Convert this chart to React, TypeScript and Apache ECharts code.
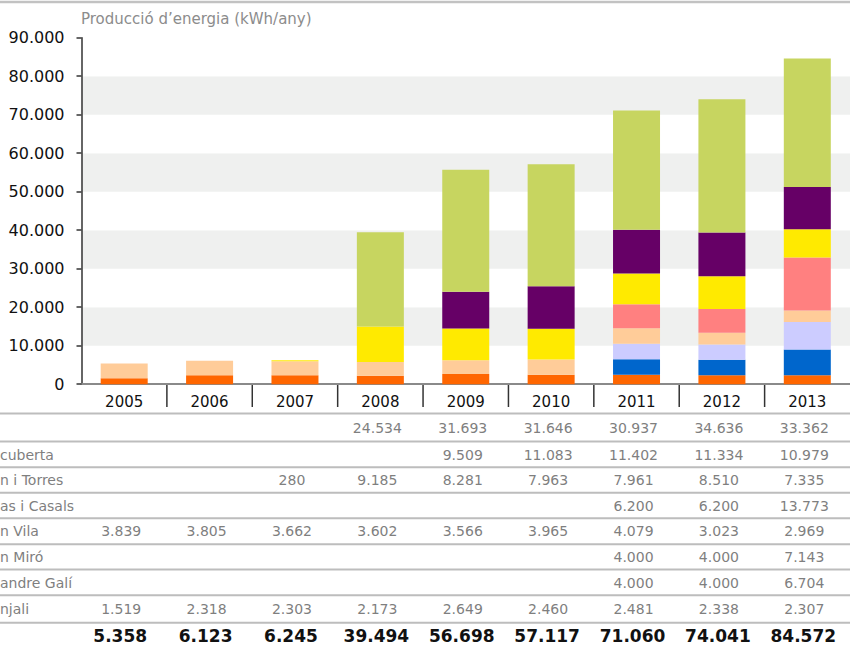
import React, { useEffect, useRef } from "react";
import * as echarts from "echarts";

const years = ["2005", "2006", "2007", "2008", "2009", "2010", "2011", "2012", "2013"];
const yTicks = [0, 10000, 20000, 30000, 40000, 50000, 60000, 70000, 80000, 90000];

// table rows, top to bottom (labels are cut by the left edge in the original)
const rowLabels = ["", "cuberta", "n i Torres", "as i Casals", "n Vila", "n Miró", "andre Galí", "njali"];
const rowGreen = [null, null, null, 24534, 31693, 31646, 30937, 34636, 33362];
const rowPurple = [null, null, null, null, 9509, 11083, 11402, 11334, 10979];
const rowYellow = [null, null, 280, 9185, 8281, 7963, 7961, 8510, 7335];
const rowPink = [null, null, null, null, null, null, 6200, 6200, 13773];
const rowPeach = [3839, 3805, 3662, 3602, 3566, 3965, 4079, 3023, 2969];
const rowLavender = [null, null, null, null, null, null, 4000, 4000, 7143];
const rowBlue = [null, null, null, null, null, null, 4000, 4000, 6704];
const rowOrange = [1519, 2318, 2303, 2173, 2649, 2460, 2481, 2338, 2307];
const totals = [5358, 6123, 6245, 39494, 56698, 57117, 71060, 74041, 84572];

const tableRows = [rowGreen, rowPurple, rowYellow, rowPink, rowPeach, rowLavender, rowBlue, rowOrange];
const rowColors = ["#c7d560", "#660066", "#ffea00", "#ff8080", "#ffcc99", "#ccccff", "#0066cc", "#ff6600"];

const FONT = "DejaVu Sans";

function fmt(n: number | null): string {
  if (n == null) return "";
  return String(n).replace(/\B(?=(\d{3})+(?!\d))/g, ".");
}

export default function App() {
  const ref = useRef<HTMLDivElement>(null);
  useEffect(() => {
    if (!ref.current) return;
    const chart = echarts.init(ref.current, undefined, { renderer: "svg" });
    // stack from bottom: orange, blue, lavender, peach, pink, yellow, purple, green
    const stackOrder = [7, 6, 5, 4, 3, 2, 1, 0];
    const series = stackOrder.map((ri) => ({
      type: "bar",
      name: rowLabels[ri] || "row" + ri,
      stack: "total",
      barWidth: 47,
      data: tableRows[ri].map((v) => (v == null ? "-" : v)),
      itemStyle: { color: rowColors[ri] },
      emphasis: { disabled: true },
    }));
    chart.setOption({
      animation: false,
      grid: { left: 81.5, top: 37.7, width: 773, bottom: 260.8, containLabel: false },
      xAxis: {
        type: "category",
        data: years,
        axisLine: { show: true, lineStyle: { color: "#8a8a8a", width: 2 } },
        axisTick: { show: false },
        axisLabel: { fontFamily: FONT, fontSize: 15, color: "#111", margin: 10 },
        splitLine: { show: false },
      },
      yAxis: {
        type: "value",
        min: yTicks[0],
        max: yTicks[yTicks.length - 1],
        interval: 10000,
        axisLine: { show: true, lineStyle: { color: "#333", width: 1.5 } },
        axisTick: { show: true, inside: false, length: 5, lineStyle: { color: "#333", width: 1.5 } },
        axisLabel: {
          fontFamily: FONT,
          fontSize: 16,
          color: "#111",
          margin: 17,
          formatter: (v: number) => fmt(v),
        },
        splitLine: { show: false },
        splitArea: { show: true, areaStyle: { color: ["#ffffff", "#eff0ef"] } },
      },
      series,
    });

    const centers = years.map((_, i) => chart.convertToPixel({ xAxisIndex: 0 }, i) as number);
    const graphics: any[] = [];
    graphics.push({
      type: "line",
      shape: { x1: 0, y1: 2, x2: 850, y2: 2 },
      style: { stroke: "#c2c2c2", lineWidth: 2.5 },
    });
    graphics.push({
      type: "text",
      x: 81,
      y: 19,
      style: {
        text: "Producció d’energia (kWh/any)",
        fill: "#8c8c8c",
        fontSize: 15,
        fontFamily: FONT,
        textAlign: "left",
        textVerticalAlign: "middle",
      },
    });
    for (let i = 0; i < centers.length - 1; i++) {
      const bx = (centers[i] + centers[i + 1]) / 2;
      graphics.push({
        type: "line",
        shape: { x1: bx, y1: 385, x2: bx, y2: 407 },
        style: { stroke: "#333", lineWidth: 1.5 },
      });
    }
    const lineYs = [413.5, 441.5, 467.3, 492.8, 518.3, 544.2, 569.5, 595.2, 622.7];
    lineYs.forEach((y) =>
      graphics.push({
        type: "line",
        shape: { x1: 0, y1: y, x2: 850, y2: y },
        style: { stroke: "#bdbdbd", lineWidth: 2 },
      })
    );
    const rowYs = [427.5, 454.5, 480, 505.5, 531.3, 557, 582.8, 608.8];
    rowLabels.forEach((lab, r) => {
      if (!lab) return;
      graphics.push({
        type: "text",
        x: 0,
        y: rowYs[r],
        style: {
          text: lab,
          fill: "#7f7f7f",
          fontSize: 14,
          fontFamily: FONT,
          textAlign: "left",
          textVerticalAlign: "middle",
        },
      });
    });
    tableRows.forEach((row, r) => {
      row.forEach((v, c) => {
        if (v == null) return;
        graphics.push({
          type: "text",
          x: centers[c] - 3,
          y: rowYs[r],
          style: {
            text: fmt(v),
            fill: "#7f7f7f",
            fontSize: 14,
            fontFamily: FONT,
            textAlign: "center",
            textVerticalAlign: "middle",
          },
        });
      });
    });
    totals.forEach((v, c) => {
      graphics.push({
        type: "text",
        x: centers[c] - 4,
        y: 635.5,
        style: {
          text: fmt(v),
          fill: "#111",
          fontSize: 17,
          fontWeight: "bold",
          fontFamily: FONT,
          textAlign: "center",
          textVerticalAlign: "middle",
        },
      });
    });
    chart.setOption({ graphic: graphics });
    return () => chart.dispose();
  }, []);
  return (
    <div
      ref={ref}
      style={{ position: "absolute", left: 0, top: 0, width: 850, height: 645, background: "#fff" }}
    />
  );
}
